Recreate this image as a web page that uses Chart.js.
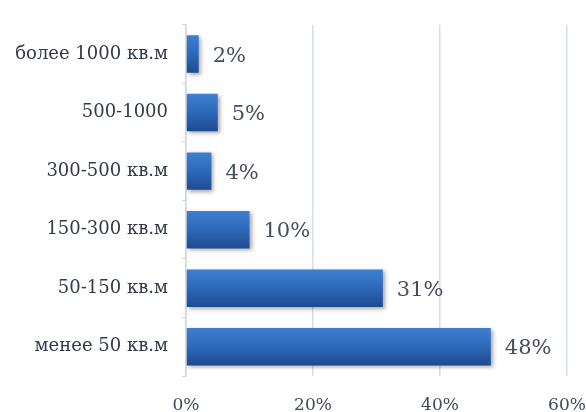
<!DOCTYPE html>
<html>
<head>
<meta charset="utf-8">
<script src="https://cdn.jsdelivr.net/npm/chart.js@4/dist/chart.umd.min.js"></script>
<style>
  html, body { margin: 0; padding: 0; background: #fff; }
  #wrap { width: 586px; height: 412px; }
</style>
</head>
<body>
<div id="wrap"><canvas id="chart"></canvas></div>
<script>
/* data */
var categories = ['более 1000 кв.м', '500-1000', '300-500 кв.м', '150-300 кв.м', '50-150 кв.м', 'менее 50 кв.м'];
var shares = [2, 5, 4, 10, 31, 48];
var xTicks = [0, 20, 40, 60];

/* gradient for each bar, light at top, dark at bottom */
function barFill(ctx) {
    var chart = ctx.chart;
    if (!chart.chartArea) return '#2d64b2';
    var y = chart.scales.y.getPixelForValue(ctx.dataIndex);
    var h = 19;
    var g = chart.ctx.createLinearGradient(0, y - h, 0, y + h);
    g.addColorStop(0, '#3f7fcf');
    g.addColorStop(0.45, '#2f6bbd');
    g.addColorStop(1, '#1d4a8f');
    return g;
}

/* percent labels right of the bars */
var valueLabels = {
    id: 'valueLabels',
    afterDatasetsDraw: function(chart) {
        var c = chart.ctx;
        var meta = chart.getDatasetMeta(0);
        c.save();
        c.font = '21px "DejaVu Serif"';
        c.fillStyle = '#454d5d';
        c.textBaseline = 'middle';
        meta.data.forEach(function(bar, i) {
            c.fillText(shares[i] + '%', bar.x + 14, bar.y + 2);
        });
        c.restore();
    }
};

/* soft shadow under bars */
var barShadow = {
    id: 'barShadow',
    beforeDatasetsDraw: function(chart) {
        chart.ctx.save();
        chart.ctx.shadowColor = 'rgba(0,0,0,0.35)';
        chart.ctx.shadowBlur = 4;
        chart.ctx.shadowOffsetX = 2;
        chart.ctx.shadowOffsetY = 2;
    },
    afterDatasetsDraw: function(chart) {
        chart.ctx.restore();
    }
};

new Chart(document.getElementById('chart'), {
    type: 'bar',
    data: {
        labels: categories,
        datasets: [{
            data: shares,
            backgroundColor: barFill,
            borderWidth: 0,
            categoryPercentage: 1,
            barPercentage: 0.64
        }]
    },
    options: {
        indexAxis: 'y',
        responsive: true,
        maintainAspectRatio: false,
        animation: false,
        layout: { padding: { top: 14, right: 0, left: 0, bottom: 0 } },
        plugins: { legend: { display: false }, tooltip: { enabled: false } },
        scales: {
            x: {
                min: 0,
                max: 60,
                afterBuildTicks: function(scale) {
                    scale.ticks = xTicks.map(function(v) { return { value: v }; });
                },
                afterFit: function(scale) {
                    scale.height = 36;
                    scale.paddingRight = 19;
                },
                grid: { color: '#d6dee6', lineWidth: 1.5, drawTicks: false },
                border: { display: false },
                ticks: {
                    padding: 19,
                    color: '#3d4a5a',
                    font: { family: '"DejaVu Serif"', size: 17, weight: 'normal' },
                    callback: function(v) { return v + '%'; }
                }
            },
            y: {
                afterFit: function(scale) { scale.width = 186; },
                grid: { drawOnChartArea: false, color: '#cfd6de', tickLength: 4, offset: true },
                border: { color: '#d0d7df', width: 1.5 },
                ticks: {
                    padding: 14,
                    color: '#333a4a',
                    font: { family: '"DejaVu Serif"', size: 18, weight: 'normal' }
                }
            }
        }
    },
    plugins: [barShadow, valueLabels]
});
</script>
</body>
</html>
